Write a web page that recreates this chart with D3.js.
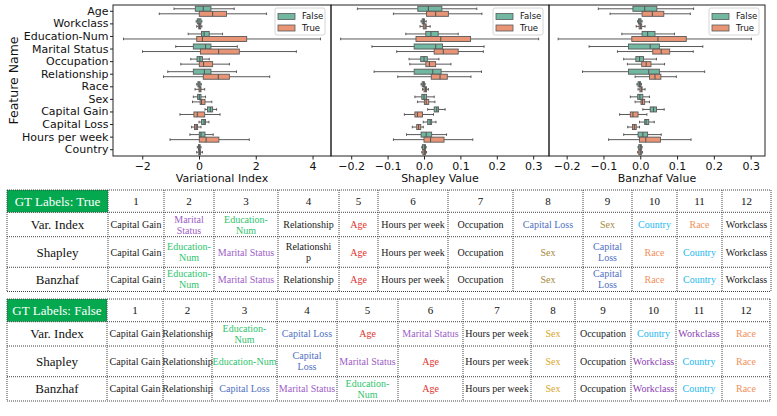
<!DOCTYPE html>
<html>
<head>
<meta charset="utf-8">
<script src="https://cdn.jsdelivr.net/npm/d3@7"></script>
<style>
body { margin: 0; background: #fff; }
text { font-family: "DejaVu Sans", sans-serif; }
.tbl text { font-family: "Liberation Serif", "Times New Roman", serif; }
</style>
</head>
<body>
<svg id="fig" width="777" height="416"></svg>
<script>
// ---- data ----
const features = ["Age", "Workclass", "Education-Num", "Marital Status", "Occupation", "Relationship",
    "Race", "Sex", "Capital Gain", "Capital Loss", "Hours per week", "Country"];
const hues = ["False", "True"];

// each row: [low whisker, q1, median, q3, high whisker]
const varIndexFalse = [
    [-0.88, -0.13, 0.15, 0.42, 1.24], [-0.10, -0.06, 0.00, 0.07, 0.10], [-0.38, 0.09, 0.18, 0.36, 0.83],
    [-0.82, -0.20, 0.23, 0.42, 1.35], [-0.29, -0.07, 0.03, 0.12, 0.36], [-1.10, -0.20, 0.19, 0.42, 1.32],
    [-0.08, -0.04, 0.00, 0.04, 0.08], [-0.20, -0.05, 0.01, 0.07, 0.23], [0.21, 0.30, 0.40, 0.48, 0.62],
    [0.00, 0.09, 0.18, 0.23, 0.35], [-0.32, 0.01, 0.07, 0.21, 0.50], [-0.06, -0.02, 0.01, 0.04, 0.07]
];
const varIndexTrue = [
    [-1.40, 0.01, 0.48, 0.97, 2.38], [-0.08, -0.01, 0.02, 0.06, 0.10], [-2.66, -0.08, 0.12, 1.68, 4.28],
    [-1.99, 0.05, 0.69, 1.42, 3.43], [-0.64, 0.01, 0.16, 0.48, 1.07], [-1.25, 0.15, 0.68, 1.07, 2.49],
    [-0.14, 0.00, 0.04, 0.07, 0.20], [-0.23, 0.04, 0.09, 0.21, 0.45], [-0.67, -0.18, -0.06, 0.20, 0.74],
    [-0.26, -0.16, -0.10, -0.05, 0.07], [-1.02, 0.01, 0.25, 0.70, 1.77], [-0.08, -0.01, 0.02, 0.05, 0.12]
];
const shapleyFalse = [
    [-0.183, -0.017, 0.012, 0.049, 0.145], [-0.008, -0.005, -0.001, 0.001, 0.006], [-0.050, 0.005, 0.019, 0.039, 0.094],
    [-0.143, -0.027, 0.032, 0.051, 0.165], [-0.041, -0.009, 0.000, 0.009, 0.041], [-0.137, -0.027, 0.024, 0.047, 0.158],
    [-0.008, -0.005, -0.001, 0.001, 0.003], [-0.025, -0.006, 0.000, 0.007, 0.028], [0.010, 0.028, 0.035, 0.040, 0.058],
    [-0.002, 0.010, 0.017, 0.021, 0.033], [-0.048, -0.008, 0.006, 0.021, 0.062], [-0.006, -0.004, 0.001, 0.004, 0.006]
];
const shapleyTrue = [
    [-0.084, 0.007, 0.032, 0.067, 0.159], [-0.011, -0.002, 0.003, 0.006, 0.017], [-0.229, -0.022, 0.046, 0.128, 0.315],
    [-0.075, 0.028, 0.053, 0.094, 0.163], [-0.039, 0.005, 0.015, 0.032, 0.074], [-0.072, 0.020, 0.044, 0.064, 0.129],
    [-0.004, 0.000, 0.004, 0.007, 0.012], [-0.018, 0.001, 0.006, 0.013, 0.030], [-0.054, -0.025, -0.018, -0.004, 0.026],
    [-0.032, -0.020, -0.015, -0.009, -0.002], [-0.084, 0.000, 0.018, 0.055, 0.134], [-0.006, -0.003, 0.001, 0.004, 0.007]
];
const banzhafFalse = [
    [-0.114, -0.020, 0.012, 0.045, 0.145], [-0.007, -0.005, -0.001, 0.002, 0.005], [-0.050, 0.005, 0.020, 0.040, 0.093],
    [-0.139, -0.032, 0.027, 0.052, 0.170], [-0.045, -0.012, -0.002, 0.009, 0.044], [-0.157, -0.032, 0.023, 0.052, 0.175],
    [-0.009, -0.006, -0.002, 0.001, 0.003], [-0.027, -0.007, -0.001, 0.007, 0.025], [0.007, 0.027, 0.036, 0.044, 0.065],
    [-0.002, 0.012, 0.016, 0.023, 0.038], [-0.045, -0.006, 0.007, 0.020, 0.057], [-0.006, -0.004, 0.000, 0.003, 0.005]
];
const banzhafTrue = [
    [-0.082, 0.005, 0.033, 0.064, 0.136], [-0.011, -0.003, 0.001, 0.004, 0.013], [-0.223, -0.023, 0.048, 0.125, 0.302],
    [-0.062, 0.034, 0.057, 0.080, 0.144], [-0.035, 0.004, 0.016, 0.029, 0.066], [-0.014, 0.025, 0.040, 0.056, 0.098],
    [-0.006, -0.001, 0.003, 0.005, 0.013], [-0.014, 0.002, 0.006, 0.012, 0.025], [-0.056, -0.027, -0.020, -0.006, 0.018],
    [-0.034, -0.021, -0.016, -0.011, -0.002], [-0.086, -0.002, 0.015, 0.055, 0.138], [-0.007, -0.004, 0.000, 0.003, 0.006]
];

const varTicks = [-2, 0, 2, 4];
const valueTicks = [-0.2, -0.1, 0.0, 0.1, 0.2, 0.3];

// ranking tables ("\n" = line break as in the figure)
const rankLabels = d3.range(1, 13);
const methods = ["Var. Index", "Shapley", "Banzhaf"];
const rankTrue = [
    ["Capital Gain", "Marital\nStatus", "Education-\nNum", "Relationship", "Age", "Hours per week", "Occupation", "Capital Loss", "Sex", "Country", "Race", "Workclass"],
    ["Capital Gain", "Education-\nNum", "Marital Status", "Relationshi\np", "Age", "Hours per week", "Occupation", "Sex", "Capital\nLoss", "Race", "Country", "Workclass"],
    ["Capital Gain", "Education-\nNum", "Marital Status", "Relationship", "Age", "Hours per week", "Occupation", "Sex", "Capital\nLoss", "Race", "Country", "Workclass"]
];
const rankFalse = [
    ["Capital Gain", "Relationship", "Education-\nNum", "Capital Loss", "Age", "Marital Status", "Hours per week", "Sex", "Occupation", "Country", "Workclass", "Race"],
    ["Capital Gain", "Relationship", "Education-Num", "Capital\nLoss", "Marital Status", "Age", "Hours per week", "Sex", "Occupation", "Workclass", "Country", "Race"],
    ["Capital Gain", "Relationship", "Capital Loss", "Marital Status", "Education-\nNum", "Age", "Hours per week", "Sex", "Occupation", "Workclass", "Country", "Race"]
];

// ---- styles ----
const hueColor = d3.scaleOrdinal().domain(hues).range(["#71b7a1", "#e99575"]);
const edgeGray = "#595959";
const colorTrue = {"Age": "#e0322c", "Marital Status": "#9d5ec6", "Education-Num": "#2ec46c", "Capital Loss": "#4f70bf",
    "Sex": "#a58a3c", "Country": "#22b8ee", "Race": "#f2905c"};
const colorFalse = Object.assign({}, colorTrue, {"Sex": "#d9a628", "Workclass": "#8a40b2"});

const svg = d3.select("#fig");
svg.append("rect").attr("width", 777).attr("height", 416).attr("fill", "#fff");

const plotTop = 5, plotBottom = 156;
const y = d3.scaleBand().domain(features).range([plotTop, plotBottom]);
const bw = y.bandwidth();
const sub = d3.scaleBand().domain(hues).range([bw * 0.1, bw * 0.9]);

const panels = [
    {left: 113, right: 331, domain: [-3.03, 4.65], ticks: varTicks, fmt: d3.format("d"), title: "Variational Index", data: [varIndexFalse, varIndexTrue]},
    {left: 331, right: 549, domain: [-0.2555, 0.3434], ticks: valueTicks, fmt: d3.format(".1f"), title: "Shapley Value", data: [shapleyFalse, shapleyTrue]},
    {left: 549, right: 765, domain: [-0.248, 0.339], ticks: valueTicks, fmt: d3.format(".1f"), title: "Banzhaf Value", data: [banzhafFalse, banzhafTrue]}
];

panels.forEach((p, pi) => {
    const x = d3.scaleLinear().domain(p.domain).range([p.left, p.right]);
    const g = svg.append("g");

    hues.forEach((h, hi) => {
        const rows = p.data[hi];
        const grp = g.append("g").selectAll("g").data(features).enter().append("g")
            .attr("transform", f => "translate(0," + (y(f) + sub(h)) + ")");
        const hb = sub.bandwidth();
        // whiskers
        grp.append("line").attr("x1", (f, i) => x(rows[i][0])).attr("x2", (f, i) => x(rows[i][1]))
            .attr("y1", hb / 2).attr("y2", hb / 2);
        grp.append("line").attr("x1", (f, i) => x(rows[i][3])).attr("x2", (f, i) => x(rows[i][4]))
            .attr("y1", hb / 2).attr("y2", hb / 2);
        // caps
        [0, 4].forEach(k => {
            grp.append("line").attr("x1", (f, i) => x(rows[i][k])).attr("x2", (f, i) => x(rows[i][k]))
                .attr("y1", hb * 0.25).attr("y2", hb * 0.75);
        });
        grp.selectAll("line").attr("stroke", edgeGray).attr("stroke-width", 1);
        // box
        grp.append("rect")
            .attr("x", (f, i) => x(rows[i][1]))
            .attr("width", (f, i) => Math.max(0.5, x(rows[i][3]) - x(rows[i][1])))
            .attr("y", 0).attr("height", hb)
            .attr("fill", hueColor(h)).attr("stroke", edgeGray).attr("stroke-width", 0.9);
        // median
        grp.append("line").attr("x1", (f, i) => x(rows[i][2])).attr("x2", (f, i) => x(rows[i][2]))
            .attr("y1", 0).attr("y2", hb).attr("stroke", edgeGray).attr("stroke-width", 1.1);
    });

    // frame
    g.append("rect").attr("x", p.left).attr("y", plotTop).attr("width", p.right - p.left).attr("height", plotBottom - plotTop)
        .attr("fill", "none").attr("stroke", "#222").attr("stroke-width", 1);

    // x axis
    const ax = g.append("g").attr("transform", "translate(0," + plotBottom + ")")
        .call(d3.axisBottom(x).tickValues(p.ticks).tickFormat(p.fmt).tickSize(3.5).tickPadding(2.5));
    ax.select(".domain").remove();
    ax.selectAll("line").attr("stroke", "#222");
    ax.selectAll("text").attr("font-size", 11).attr("fill", "#111").attr("font-family", "DejaVu Sans");
    g.append("text").attr("x", (p.left + p.right) / 2).attr("y", 182).attr("text-anchor", "middle")
        .attr("font-size", 11).attr("fill", "#111").text(p.title);

    // y axis (only first panel labelled)
    if (pi === 0) {
        const ay = g.append("g").attr("transform", "translate(" + p.left + ",0)")
            .call(d3.axisLeft(y).tickSize(3).tickPadding(1.5));
        ay.select(".domain").remove();
        ay.selectAll("line").attr("stroke", "#222");
        ay.selectAll("text").attr("font-size", 11).attr("fill", "#111").attr("font-family", "DejaVu Sans");
        g.append("text").attr("transform", "translate(14," + ((plotTop + plotBottom) / 2) + ") rotate(-90)")
            .attr("text-anchor", "middle").attr("dy", "0.35em").attr("font-size", 12.5).attr("fill", "#111")
            .text("Feature Name");
    }

    // legend
    const lw = 50, lh = 27, lx = p.right - 6 - lw, ly = plotTop + 3;
    const lg = g.append("g");
    lg.append("rect").attr("x", lx).attr("y", ly).attr("width", lw).attr("height", lh).attr("rx", 2)
        .attr("fill", "#fff").attr("fill-opacity", 0.8).attr("stroke", "#ccc").attr("stroke-width", 0.8);
    hues.forEach((h, i) => {
        const cy = ly + 8.5 + i * 11.5;
        lg.append("rect").attr("x", lx + 3).attr("y", cy - 3).attr("width", 17).attr("height", 6)
            .attr("fill", hueColor(h)).attr("stroke", edgeGray).attr("stroke-width", 0.8);
        lg.append("text").attr("x", lx + 27).attr("y", cy).attr("dy", "0.35em").attr("font-size", 8.5)
            .attr("fill", "#111").text(h);
    });
});

// ---- tables ----
function drawTable(topY, title, edges, rowH, ranks, colors) {
    const t = svg.append("g").attr("class", "tbl");
    const ys = [topY];
    rowH.forEach(h => ys.push(ys[ys.length - 1] + h));
    const ncol = edges.length - 1;

    // header cell
    t.append("rect").attr("x", edges[0]).attr("y", ys[0]).attr("width", edges[1] - edges[0]).attr("height", rowH[0])
        .attr("fill", "#04a84f");
    t.append("text").attr("x", (edges[0] + edges[1]) / 2).attr("y", ys[0] + rowH[0] / 2).attr("dy", "0.35em")
        .attr("text-anchor", "middle").attr("font-size", 13).attr("fill", "#fff").text(title);

    // rank numbers
    t.selectAll(".num").data(rankLabels).enter().append("text")
        .attr("x", (d, i) => (edges[i + 1] + edges[i + 2]) / 2).attr("y", ys[0] + rowH[0] / 2).attr("dy", "0.35em")
        .attr("text-anchor", "middle").attr("font-size", 11).attr("fill", "#111").text(d => d);

    methods.forEach((m, r) => {
        const cy = ys[r + 1] + rowH[r + 1] / 2;
        t.append("text").attr("x", (edges[0] + edges[1]) / 2).attr("y", cy).attr("dy", "0.35em")
            .attr("text-anchor", "middle").attr("font-size", 13).attr("fill", "#111").text(m);
        ranks[r].forEach((name, c) => {
            const key = name.replace("-\n", "-").replace("\n", " ").replace("Relationshi p", "Relationship");
            const lines = name.split("\n");
            const tx = t.append("text").attr("text-anchor", "middle").attr("font-size", 10)
                .attr("fill", colors[key] || "#1a1a1a");
            lines.forEach((ln, k) => {
                tx.append("tspan").attr("x", (edges[c + 1] + edges[c + 2]) / 2)
                    .attr("y", cy + (k - (lines.length - 1) / 2) * 11).attr("dy", "0.35em").text(ln);
            });
        });
    });

    // grid lines (dotted like the source)
    const gl = t.append("g").attr("stroke", "#444").attr("stroke-width", 1).attr("stroke-dasharray", "1,1");
    ys.forEach(yy => gl.append("line").attr("x1", edges[0]).attr("x2", edges[ncol]).attr("y1", yy).attr("y2", yy));
    edges.forEach(xx => gl.append("line").attr("x1", xx).attr("x2", xx).attr("y1", ys[0]).attr("y2", ys[ys.length - 1]));
}

drawTable(190, "GT Labels: True", [7, 108, 164, 214, 278, 339, 378, 448, 513, 583, 632, 677, 722, 771],
    [22.3, 24.4, 30.6, 24.2], rankTrue, colorTrue);
drawTable(299, "GT Labels: False", [7, 107, 163, 212, 277, 337, 398, 463, 531, 575, 631, 676, 722, 770],
    [22.7, 24.3, 30.7, 24.3], rankFalse, colorFalse);
</script>
</body>
</html>
